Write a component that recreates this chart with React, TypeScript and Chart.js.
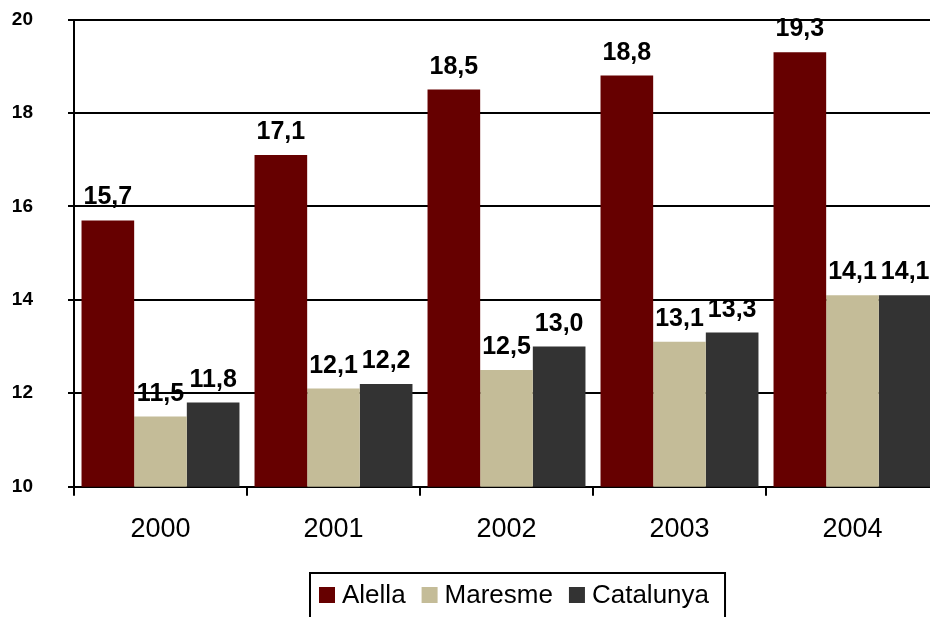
import React, { useEffect, useRef } from "react";
import { Chart, registerables } from "chart.js";

Chart.register(...registerables);

const categories = ["2000", "2001", "2002", "2003", "2004"];
const seriesNames = ["Alella", "Maresme", "Catalunya"];
const alella = [15.7, 17.1, 18.5, 18.8, 19.3];
const maresme = [11.5, 12.1, 12.5, 13.1, 14.1];
const catalunya = [11.8, 12.2, 13.0, 13.3, 14.1];
const yTicks = [10, 12, 14, 16, 18, 20];
const colors = ["#660000", "#C4BC98", "#333333"];

const FONT = "'Liberation Sans', Arial, sans-serif";

const valueLabels = {
  id: "valueLabels",
  afterDatasetsDraw(chart: any) {
    const ctx = chart.ctx;
    ctx.save();
    ctx.font = `bold 25px ${FONT}`;
    ctx.fillStyle = "#000";
    ctx.textAlign = "center";
    ctx.textBaseline = "alphabetic";
    chart.data.datasets.forEach((ds: any, i: number) => {
      const meta = chart.getDatasetMeta(i);
      meta.data.forEach((bar: any, j: number) => {
        const v = ds.data[j] as number;
        ctx.fillText(v.toFixed(1).replace(".", ","), bar.x, bar.y - 16);
      });
    });
    ctx.restore();
  },
};

const boxedLegend = {
  id: "boxedLegend",
  afterDraw(chart: any) {
    const ctx = chart.ctx;
    ctx.save();
    ctx.font = `26px ${FONT}`;
    const left = 310;
    const top = 573;
    const sq = 16;
    let x = left + 9;
    const widths: number[] = [];
    chart.data.datasets.forEach((ds: any) => {
      widths.push(ctx.measureText(ds.label).width);
    });
    chart.data.datasets.forEach((ds: any, i: number) => {
      ctx.fillStyle = ds.backgroundColor;
      ctx.fillRect(x, top + 14, sq, sq);
      ctx.fillStyle = "#000";
      ctx.textAlign = "left";
      ctx.textBaseline = "alphabetic";
      ctx.fillText(ds.label, x + sq + 7, top + 30);
      x += sq + 7 + widths[i] + 16;
    });
    const right = x;
    ctx.strokeStyle = "#000";
    ctx.lineWidth = 2;
    ctx.strokeRect(left, top, right - left, 60);
    ctx.restore();
  },
};

export default function App() {
  const ref = useRef<HTMLCanvasElement>(null);
  useEffect(() => {
    if (!ref.current) return;
    const chart = new Chart(ref.current, {
      type: "bar",
      data: {
        labels: categories,
        datasets: [alella, maresme, catalunya].map((d, i) => ({
          label: seriesNames[i],
          data: d,
          backgroundColor: colors[i],
          borderWidth: 0,
          barPercentage: 1,
          categoryPercentage: 0.913,
        })),
      },
      options: {
        animation: false,
        responsive: true,
        maintainAspectRatio: false,
        layout: { padding: { left: 0, top: 19.5, right: 21, bottom: 70.3 } },
        plugins: { legend: { display: false }, tooltip: { enabled: false } },
        scales: {
          x: {
            offset: true,
            grid: {
              offset: true,
              drawOnChartArea: false,
              drawTicks: true,
              tickLength: 9,
              tickColor: "#000",
              tickWidth: 2,
              color: "#000",
              lineWidth: 2,
            },
            border: { display: true, color: "#000", width: 2 },
            ticks: {
              color: "#000",
              font: { family: FONT, size: 27 },
              padding: 18,
              maxRotation: 0,
            },
            afterFit(scale: any) {
              scale.height = 60;
            },
          },
          y: {
            min: 10,
            max: 20,
            afterBuildTicks(scale: any) {
              scale.ticks = yTicks.map((v) => ({ value: v }));
            },
            grid: {
              color: "#000",
              lineWidth: 2,
              drawTicks: true,
              tickLength: 6,
              tickColor: "#000",
              tickWidth: 2,
            },
            border: { display: true, color: "#000", width: 2 },
            ticks: {
              color: "#000",
              font: { family: FONT, size: 19, weight: "bold" },
              padding: 35,
            },
            afterFit(scale: any) {
              scale.width = 74;
              scale.paddingTop = 0;
              scale.paddingBottom = 0;
            },
          },
        },
      },
      plugins: [valueLabels, boxedLegend],
    });
    return () => chart.destroy();
  }, []);
  return (
    <div style={{ position: "fixed", left: 0, top: 0, width: 930, height: 617, overflow: "hidden", background: "#fff" }}>
      <div style={{ position: "relative", width: 960, height: 617 }}>
        <canvas ref={ref} />
      </div>
    </div>
  );
}
